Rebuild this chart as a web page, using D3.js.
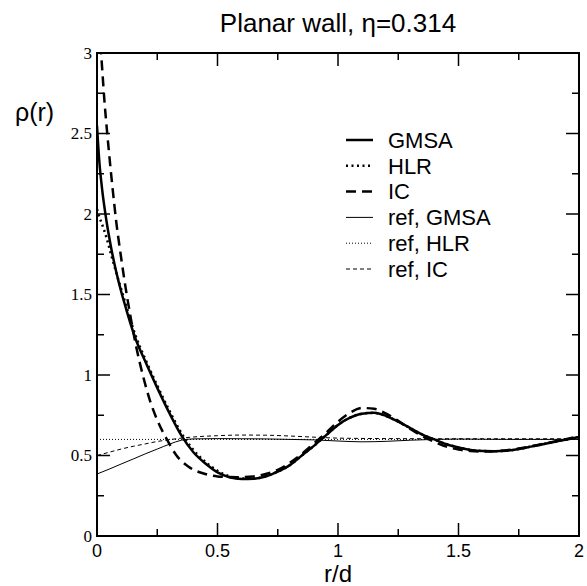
<!DOCTYPE html>
<html><head><meta charset="utf-8">
<script src="https://cdn.jsdelivr.net/npm/d3@7"></script>
<style>body{margin:0;background:#fff}svg{display:block}</style>
</head><body>
<script>
// ---- data ----
const rGMSA   = [0,0.01,0.02,0.04,0.06,0.08,0.1,0.12,0.14,0.16,0.2,0.25,0.3,0.35,0.4,0.45,0.5,0.55,0.6,0.65,0.7,0.75,0.8,0.85,0.9,0.95,1.0,1.05,1.1,1.15,1.2,1.25,1.3,1.35,1.4,1.45,1.5,1.55,1.6,1.65,1.7,1.75,1.8,1.85,1.9,1.95,2.0];
const rhoGMSA = [2.55,2.32,2.17,1.95,1.78,1.64,1.52,1.415,1.315,1.225,1.085,0.92,0.765,0.625,0.52,0.45,0.395,0.365,0.354,0.356,0.37,0.40,0.44,0.50,0.56,0.625,0.69,0.735,0.76,0.765,0.745,0.71,0.67,0.63,0.6,0.57,0.55,0.535,0.528,0.527,0.53,0.54,0.555,0.57,0.585,0.60,0.615];

const rHLR    = [0,0.01,0.02,0.04,0.06,0.08,0.1,0.12,0.14,0.16,0.2,0.25,0.3,0.35,0.4,0.45,0.5,0.55,0.6,0.65,0.7,0.75,0.8,0.85,0.9,0.95,1.0,1.05,1.1,1.15,1.2,1.25,1.3,1.35,1.4,1.45,1.5,1.55,1.6,1.65,1.7,1.75,1.8,1.85,1.9,1.95,2.0];
const rhoHLR  = [2.03,1.98,1.94,1.85,1.74,1.635,1.535,1.435,1.335,1.245,1.1,0.935,0.78,0.64,0.535,0.46,0.405,0.37,0.357,0.357,0.372,0.40,0.44,0.50,0.56,0.625,0.69,0.735,0.76,0.765,0.745,0.71,0.67,0.63,0.6,0.57,0.55,0.535,0.528,0.527,0.53,0.54,0.555,0.57,0.585,0.60,0.615];

const rIC     = [0,0.017,0.03,0.05,0.066,0.08,0.1,0.12,0.14,0.16,0.19,0.22,0.25,0.29,0.33,0.38,0.45,0.5,0.58,0.65,0.7,0.75,0.8,0.85,0.9,0.95,1.0,1.05,1.1,1.15,1.2,1.25,1.3,1.35,1.4,1.45,1.5,1.55,1.6,1.65,1.7,1.75,1.8,1.85,1.9,1.95,2.0];
const rhoIC   = [3.35,3.0,2.72,2.38,2.14,1.95,1.73,1.53,1.355,1.195,1.0,0.84,0.72,0.6,0.5,0.43,0.385,0.37,0.365,0.37,0.385,0.41,0.455,0.51,0.575,0.64,0.71,0.765,0.795,0.79,0.76,0.715,0.665,0.62,0.585,0.555,0.537,0.528,0.525,0.527,0.533,0.543,0.557,0.572,0.587,0.603,0.62];

const rRefGMSA   = [0,0.05,0.1,0.15,0.2,0.25,0.3,0.35,0.4,0.5,0.6,0.7,0.8,0.9,1.0,1.1,1.2,1.3,1.4,1.5,1.6,1.7,1.8,1.9,2.0];
const rhoRefGMSA = [0.385,0.415,0.447,0.478,0.51,0.54,0.57,0.595,0.603,0.605,0.604,0.603,0.6,0.597,0.59,0.585,0.588,0.595,0.6,0.602,0.601,0.6,0.6,0.6,0.6];

const rRefHLR    = [0,0.5,1.0,1.5,2.0];
const rhoRefHLR  = [0.6,0.6,0.6,0.6,0.6];

const rRefIC     = [0,0.05,0.1,0.15,0.2,0.25,0.3,0.35,0.4,0.5,0.6,0.7,0.8,0.9,1.0,1.2,1.5,2.0];
const rhoRefIC   = [0.5,0.52,0.54,0.557,0.572,0.587,0.598,0.608,0.615,0.623,0.627,0.626,0.621,0.614,0.608,0.605,0.604,0.604];

const xTicks = [0,0.5,1,1.5,2];
const xTickLabels = ["0","0.5","1","1.5","2"];
const yTicks = [0,0.5,1,1.5,2,2.5,3];
const yTickLabels = ["0","0.5","1","1.5","2","2.5","3"];

const legendLabels = ["GMSA","HLR","IC","ref, GMSA","ref, HLR","ref, IC"];
const titleText = "Planar wall, \u03b7=0.314";

// ---- layout ----
const W = 587, H = 586;
const m = {left:97, right:8, top:53, bottom:50};
const pw = W - m.left - m.right, ph = H - m.top - m.bottom;

const svg = d3.select("body").append("svg").attr("width", W).attr("height", H);
const x = d3.scaleLinear().domain([0,2]).range([m.left, m.left+pw]);
const y = d3.scaleLinear().domain([0,3]).range([m.top+ph, m.top]);

svg.append("defs").append("clipPath").attr("id","clip")
  .append("rect").attr("x", m.left).attr("y", m.top).attr("width", pw).attr("height", ph);

const series = [
  {r:rGMSA, v:rhoGMSA, w:2.5, dash:null},
  {r:rHLR, v:rhoHLR, w:2.5, dash:"2,3.5"},
  {r:rIC, v:rhoIC, w:2.5, dash:"10,6"},
  {r:rRefGMSA, v:rhoRefGMSA, w:1, dash:null},
  {r:rRefHLR, v:rhoRefHLR, w:1, dash:"1,2"},
  {r:rRefIC, v:rhoRefIC, w:1, dash:"4,3"}
];

const line = d3.line().x(d=>x(d[0])).y(d=>y(d[1])).curve(d3.curveMonotoneX);
const g = svg.append("g").attr("clip-path","url(#clip)");
[3,4,5,0,1,2].forEach(i=>{
  const s = series[i];
  g.append("path").datum(s.r.map((r,k)=>[r,s.v[k]]))
    .attr("d", line).attr("fill","none").attr("stroke","#000")
    .attr("stroke-width", s.w).attr("stroke-dasharray", s.dash);
});

// ---- axes (inward ticks on all four sides) ----
const tickG = svg.append("g").attr("stroke","#000").attr("stroke-width",1.5);
const xMinor = d3.range(0,2.0001,0.25), yMinor = d3.range(0,3.0001,0.25);
xMinor.forEach(t=>{
  const major = xTicks.some(v=>Math.abs(v-t)<1e-6);
  const L = major?13:7;
  tickG.append("line").attr("x1",x(t)).attr("x2",x(t)).attr("y1",y(0)).attr("y2",y(0)-L);
  tickG.append("line").attr("x1",x(t)).attr("x2",x(t)).attr("y1",y(3)).attr("y2",y(3)+L);
});
yMinor.forEach(t=>{
  const major = yTicks.some(v=>Math.abs(v-t)<1e-6);
  const L = major?13:7;
  tickG.append("line").attr("x1",x(0)).attr("x2",x(0)+L).attr("y1",y(t)).attr("y2",y(t));
  tickG.append("line").attr("x1",x(2)).attr("x2",x(2)-L).attr("y1",y(t)).attr("y2",y(t));
});
svg.append("rect").attr("x",m.left).attr("y",m.top).attr("width",pw).attr("height",ph)
  .attr("fill","none").attr("stroke","#000").attr("stroke-width",2);

svg.append("g").selectAll("text").data(xTicks).join("text")
  .attr("x", d=>x(d)).attr("y", y(0)+21).attr("text-anchor","middle")
  .attr("font-family","Liberation Sans, Arial, sans-serif").attr("font-size",18)
  .text((d,i)=>xTickLabels[i]);
svg.append("g").selectAll("text").data(yTicks).join("text")
  .attr("x", x(0)-5).attr("y", d=>y(d)).attr("dy","0.35em").attr("text-anchor","end")
  .attr("font-family","Liberation Serif, Times New Roman, serif").attr("font-size",17)
  .text((d,i)=>yTickLabels[i]);

// titles
svg.append("text").attr("x", m.left+pw/2).attr("y", 32).attr("text-anchor","middle")
  .attr("font-family","Liberation Sans, Arial, sans-serif").attr("font-size",26).text(titleText);
svg.append("text").attr("x", m.left+pw/2).attr("y", 582).attr("text-anchor","middle")
  .attr("font-family","Liberation Sans, Arial, sans-serif").attr("font-size",24).text("r/d");
svg.append("text").attr("x", 15).attr("y", 121)
  .attr("font-family","Liberation Sans, Arial, sans-serif").attr("font-size",25).text("\u03c1(r)");

// legend
const lg = svg.append("g");
series.forEach((s,i)=>{
  const yy = 140 + i*25.8;
  lg.append("line").attr("x1",346).attr("x2",373).attr("y1",yy).attr("y2",yy)
    .attr("stroke","#000").attr("stroke-width",s.w).attr("stroke-dasharray",s.dash);
  lg.append("text").attr("x",388).attr("y",yy).attr("dy","0.35em")
    .attr("font-family","Liberation Sans, Arial, sans-serif").attr("font-size",22).text(legendLabels[i]);
});
</script>
</body></html>
